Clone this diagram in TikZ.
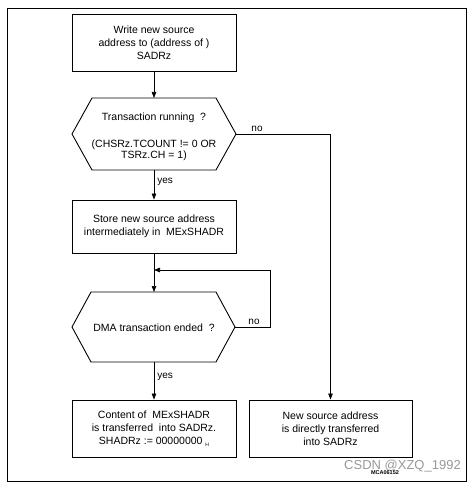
\documentclass[tikz,border=0pt]{standalone}
\usepackage{fontspec}
\setmainfont{Liberation Sans}
\usetikzlibrary{arrows.meta}
\begin{document}
\begin{tikzpicture}[x=1pt,y=-1pt,
  every node/.style={font=\fontsize{10.5}{13}\selectfont},
  boxnode/.style={draw,line width=0.9pt,align=center,inner sep=0pt},
  conn/.style={line width=0.7pt},
  arr/.style={conn,-{Triangle[length=6pt,width=4.5pt]}},
  lbl/.style={inner sep=1pt,font=\fontsize{10}{12}\selectfont}]
\useasboundingbox (0,0) rectangle (475,484);
\draw[line width=0.8pt] (7,8) rectangle (466,481);
% box 1
\node[boxnode,minimum width=164pt,minimum height=57pt] (b1) at (154,42.5)
  {\fontsize{10.5}{14}\selectfont Write new source\\address to (address of )\\SADRz};
% hexagon 1
\coordinate (h1l) at (72,134);
\coordinate (h1r) at (236,134);
\coordinate (h1t) at (154,98);
\coordinate (h1b) at (154,170);
\draw[line width=0.9pt] (72,134) -- (92,98) -- (216,98) -- (236,134) -- (216,170) -- (92,170) -- cycle;
\node (h1a) at (154,118) {Transaction running\ \ ?};
\node[align=center,font=\fontsize{10.5}{11}\selectfont] (h1c) at (154,150.5) {(CHSRz.TCOUNT != 0 OR\\TSRz.CH = 1)};
% box 2
\node[boxnode,minimum width=164pt,minimum height=53pt] (b2) at (154,226.5)
  {Store new source address\\intermediately in\ \ MExSHADR};
% hexagon 2
\coordinate (h2l) at (72,327);
\coordinate (h2r) at (235,327);
\coordinate (h2t) at (154,292);
\coordinate (h2b) at (154,362);
\draw[line width=0.9pt] (72,327) -- (91,292) -- (216,292) -- (235,327) -- (216,362) -- (91,362) -- cycle;
\node (h2a) at (154,328) {DMA transaction ended\ \ ?};
% box 3
\node[boxnode,minimum width=164pt,minimum height=57pt] (b3) at (154,428.5)
  {Content of\ \ MExSHADR\\is transferred\ \ into SADRz.\\SHADRz := 00000000 \raisebox{-1.5pt}{\fontsize{5}{5}\selectfont H}};
% box 4
\node[boxnode,minimum width=163pt,minimum height=57pt] (b4) at (330.5,428.5)
  {New source address\\is directly transferred\\into SADRz};
% connectors
\draw[arr] (b1.south) -- (h1t);
\draw[arr] (h1b) -- (b2.north) node[lbl,pos=0.4,right=2pt] (y1) {yes};
\coordinate (c1) at (330.5,134);
\draw[arr] (h1r) -- (c1) -- (b4.north);
\node[lbl,anchor=south] (n1) at (257,133) {no};
\coordinate (j) at (154,270);
\draw[conn] (b2.south) -- (j);
\draw[arr] (j) -- (h2t);
\coordinate (l1) at (270,327);
\coordinate (l2) at (270,270);
\draw[arr] (h2r) -- (l1) -- (l2) -- (j);
\node[lbl,anchor=south] (n2) at (254,326) {no};
\draw[arr] (h2b) -- (b3.north) node[lbl,pos=0.4,right=2pt] (y2) {yes};
% watermark
\node[text=black!40,font=\fontsize{13}{13}\selectfont,inner sep=0pt] (wm) at (402.5,466) {CSDN @XZQ\_1992};
\node[font=\fontsize{5.5}{6}\selectfont\bfseries,inner sep=0pt] (mca) at (385,473) {MCA06152};
\end{tikzpicture}
\end{document}
